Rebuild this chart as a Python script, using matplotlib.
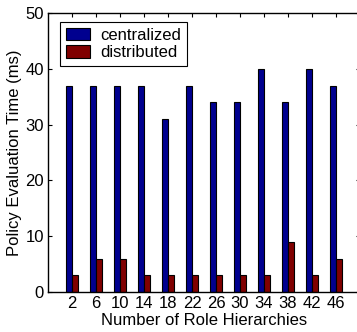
import numpy as np
import matplotlib.pyplot as plt

plt.rcParams['font.family'] = ['Liberation Sans', 'DejaVu Sans']

# Data
hierarchies = [2, 6, 10, 14, 18, 22, 26, 30, 34, 38, 42, 46]
centralized = [37, 37, 37, 37, 31, 37, 34, 34, 40, 34, 40, 37]
distributed = [3, 6, 6, 3, 3, 3, 3, 3, 3, 9, 3, 6]

x = np.arange(1, len(hierarchies) + 1)
w = 0.25
fs = 12

fig = plt.figure(figsize=(3.57, 3.32), dpi=100)
ax = fig.add_axes([48 / 357, 40 / 332, 312 / 357, 279 / 332])

ax.bar(x - w / 2, centralized, w, color='#00008f', edgecolor='black',
       linewidth=0.8, label='centralized')
ax.bar(x + w / 2, distributed, w, color='#800000', edgecolor='black',
       linewidth=0.8, label='distributed')

ax.set_xlim(0, 13)
ax.set_ylim(0, 50)
ax.set_xticks(x)
ax.set_xticklabels([str(h) for h in hierarchies])
ax.set_yticks(range(0, 51, 10))
ax.tick_params(direction='in', top=True, right=True, labelsize=fs, length=3,
               pad=3)
for s in ax.spines.values():
    s.set_linewidth(1.0)

ax.set_xlabel('Number of Role Hierarchies', fontsize=fs, labelpad=1)
ax.set_ylabel('Policy Evaluation Time (ms)', fontsize=fs, labelpad=2)

leg = ax.legend(loc='upper left', bbox_to_anchor=(60 / 357, 1 - 22 / 332),
                bbox_transform=fig.transFigure, borderaxespad=0, fontsize=fs,
                fancybox=False, edgecolor='black', framealpha=1,
                handlelength=1.45, handleheight=0.75, borderpad=0.35,
                labelspacing=0.15, handletextpad=0.6)
leg.get_frame().set_linewidth(0.8)

fig.savefig('out.png', dpi=100)
